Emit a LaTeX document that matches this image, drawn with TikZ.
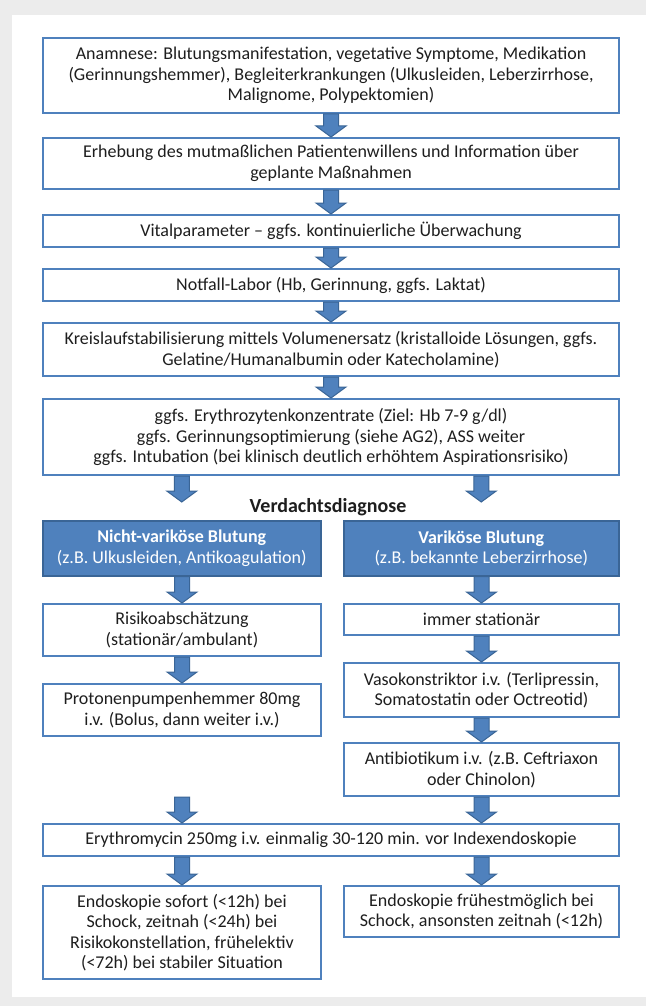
\documentclass[tikz,border=0pt]{standalone}
\usepackage{fontspec}
\setmainfont{Carlito}
\usetikzlibrary{calc}
\definecolor{boxblue}{HTML}{4F81BD}
\definecolor{darkblue}{HTML}{3A6596}
\definecolor{bggrey}{HTML}{ECECEC}
\definecolor{txt}{HTML}{1E1E1E}
\newcommand\mybox[7]{\node[#6, anchor=north west, minimum width={(#4-#2)*1pt}, minimum height={(#5-#3)*1pt}] (#1) at (#2,#3) {#7};}
\newcommand\blkarrow[2]{\draw[barrowsty] let \p1=#1, \p2=#2 in
  (\x2-7.5pt,\y1) -- (\x2+7.5pt,\y1) -- (\x2+7.5pt,\y2+11pt) -- (\x2+15pt,\y2+11pt)
  -- (\x2,\y2) -- (\x2-15pt,\y2+11pt) -- (\x2-7.5pt,\y2+11pt) -- cycle;}
\begin{document}
\begin{tikzpicture}[x=1pt,y=-1pt,
  wbox/.style={draw=boxblue, line width=2pt, fill=white, text=txt, align=center, inner sep=0pt, font=\fontsize{18}{20.5}\selectfont},
  bbox/.style={draw=darkblue, line width=1.5pt, fill=boxblue, text=white, align=center, inner sep=0pt, font=\fontsize{18}{20.5}\selectfont},
  barrowsty/.style={fill=boxblue, draw=darkblue, line width=1pt, line join=miter}]
\fill[bggrey] (0,0) rectangle (646,1006);
\fill[white] (12,15) rectangle (646,997);
\useasboundingbox (0,0) rectangle (646,1006);

\mybox{B1}{42}{37}{618}{112}{wbox}{Anamnese: Blutungsmanifestation, vegetative Symptome, Medikation\\(Gerinnungshemmer), Begleiterkrankungen (Ulkusleiden, Leberzirrhose,\\Malignome, Polypektomien)}
\mybox{B2}{42}{137}{618}{188}{wbox}{Erhebung des mutmaßlichen Patientenwillens und Information über\\geplante Maßnahmen}
\mybox{B3}{42}{214}{618}{246}{wbox}{Vitalparameter – ggfs. kontinuierliche Überwachung}
\mybox{B4}{42}{268}{618}{300}{wbox}{Notfall-Labor (Hb, Gerinnung, ggfs. Laktat)}
\mybox{B5}{42}{322}{618}{375}{wbox}{Kreislaufstabilisierung mittels Volumenersatz (kristalloide Lösungen, ggfs.\\Gelatine/Humanalbumin oder Katecholamine)}
\mybox{B6}{42}{398}{618}{474}{wbox}{ggfs. Erythrozytenkonzentrate (Ziel: Hb 7-9 g/dl)\\ggfs. Gerinnungsoptimierung (siehe AG2), ASS weiter\\ggfs. Intubation (bei klinisch deutlich erhöhtem Aspirationsrisiko)}

\node[font=\bfseries\fontsize{20}{22}\selectfont, text=txt] (vd) at (328,507) {Verdachtsdiagnose};

\mybox{L1}{42}{520}{320}{575}{bbox}{{\bfseries Nicht-variköse Blutung}\\(z.B. Ulkusleiden, Antikoagulation)}
\mybox{R1}{343}{520}{618}{575}{bbox}{{\bfseries Variköse Blutung}\\(z.B. bekannte Leberzirrhose)}
\mybox{L2}{42}{603}{320}{655}{wbox}{Risikoabschätzung\\(stationär/ambulant)}
\mybox{R2}{343}{603}{618}{634}{wbox}{immer stationär}
\mybox{L3}{42}{683}{320}{735}{wbox}{Protonenpumpenhemmer 80mg\\i.v. (Bolus, dann weiter i.v.)}
\mybox{R3}{343}{662}{618}{716}{wbox}{Vasokonstriktor i.v. (Terlipressin,\\Somatostatin oder Octreotid)}
\mybox{R4}{343}{742}{618}{795}{wbox}{Antibiotikum i.v. (z.B. Ceftriaxon\\oder Chinolon)}
\mybox{E}{42}{823}{618}{855}{wbox}{Erythromycin 250mg i.v. einmalig 30-120 min. vor Indexendoskopie}
\mybox{EL}{42}{885}{320}{978}{wbox}{Endoskopie sofort (<12h) bei\\Schock, zeitnah (<24h) bei\\Risikokonstellation, frühelektiv\\(<72h) bei stabiler Situation}
\mybox{ER}{343}{885}{618}{936}{wbox}{Endoskopie frühestmöglich bei\\Schock, ansonsten zeitnah (<12h)}

\coordinate (tL) at ($(L1.north)+(0,-18)$);
\coordinate (tR) at ($(R1.north)+(0,-18)$);

\blkarrow{(B1.south)}{(B2.north)}
\blkarrow{(B2.south)}{(B3.north)}
\blkarrow{(B3.south)}{(B4.north)}
\blkarrow{(B4.south)}{(B5.north)}
\blkarrow{(B5.south)}{(B6.north)}
\blkarrow{(B6.south)}{(tL)}
\blkarrow{(B6.south)}{(tR)}
\blkarrow{(L1.south)}{(L2.north)}
\blkarrow{(R1.south)}{(R2.north)}
\blkarrow{(L2.south)}{(L3.north)}
\blkarrow{(R2.south)}{(R3.north)}
\blkarrow{(R3.south)}{(R4.north)}
\blkarrow{(R4.south)}{(E.north -| L3.north)}
\blkarrow{(R4.south)}{(E.north -| R4.north)}
\blkarrow{(E.south)}{(EL.north)}
\blkarrow{(E.south)}{(ER.north)}
\end{tikzpicture}
\end{document}
